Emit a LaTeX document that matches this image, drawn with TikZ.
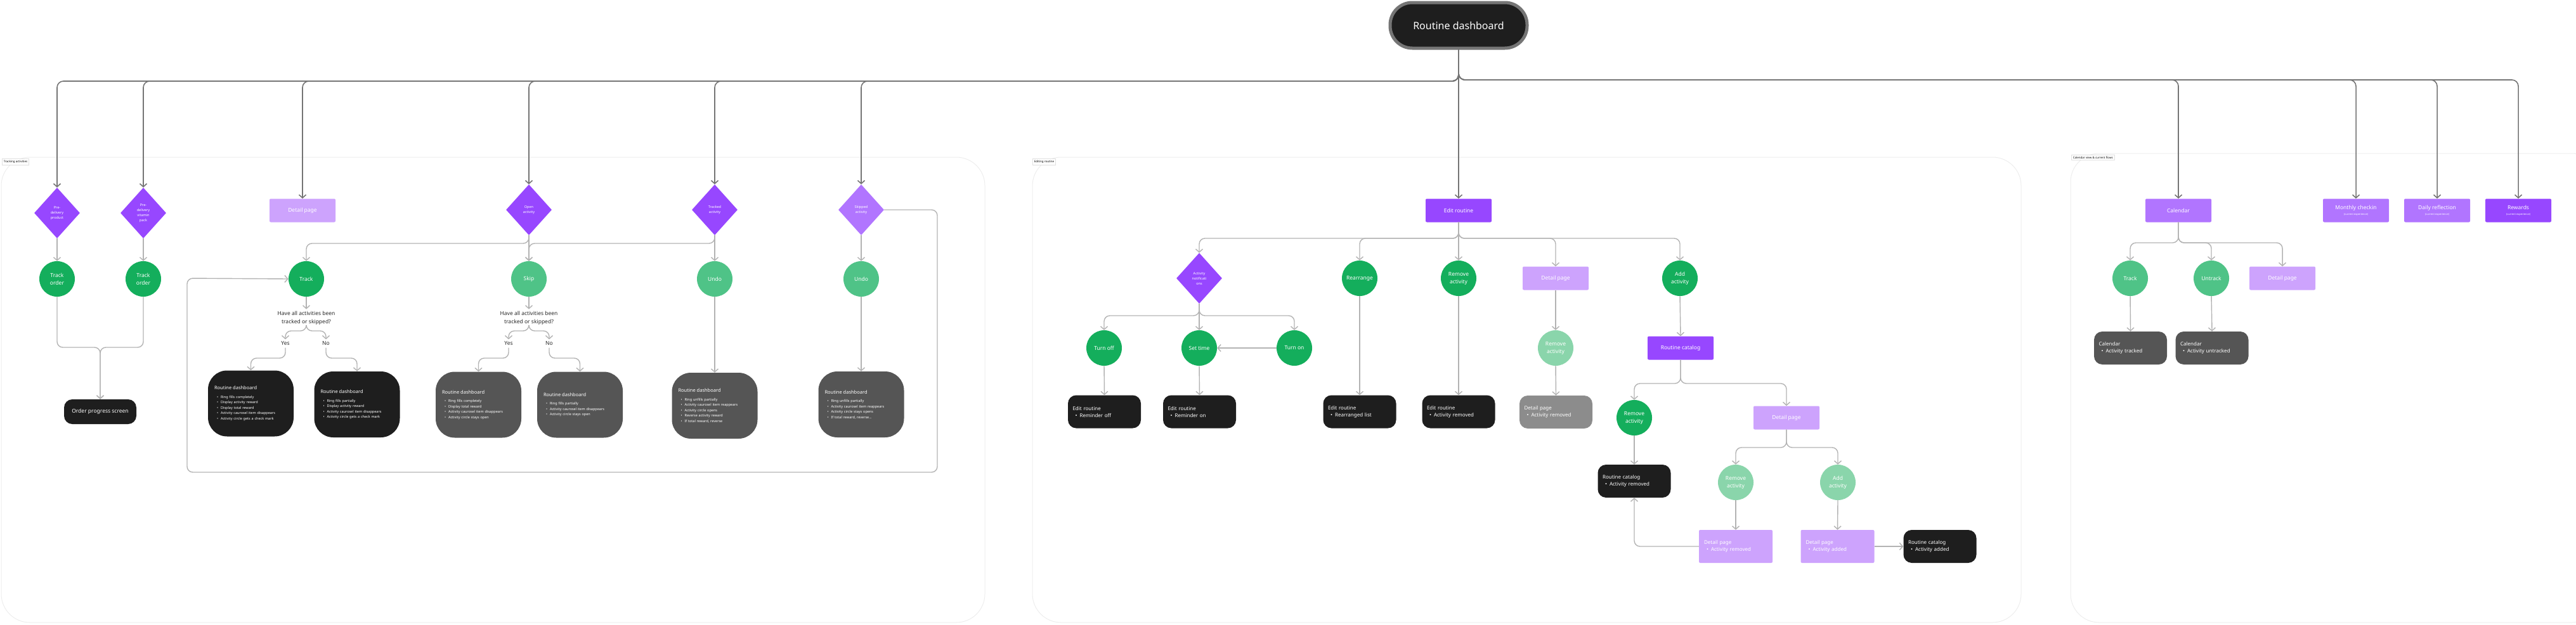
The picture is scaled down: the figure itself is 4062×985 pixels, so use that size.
\documentclass[tikz,border=0pt]{standalone}
\usepackage{fontspec}
\setmainfont{Noto Sans}
\usetikzlibrary{shapes.geometric,arrows.meta}
\definecolor{dpur}{HTML}{9747FF}
\definecolor{mpur}{HTML}{B175FF}
\definecolor{lpur}{HTML}{CDA3FD}
\definecolor{dgrn}{HTML}{14AE5C}
\definecolor{mgrn}{HTML}{4FC387}
\definecolor{lgrn}{HTML}{8AD5AB}
\definecolor{blk}{HTML}{1E1E1E}
\definecolor{dgry}{HTML}{555555}
\definecolor{mgry}{HTML}{8C8C8C}
\definecolor{lin}{HTML}{B3B3B3}
\definecolor{tlin}{HTML}{757575}
\newcommand\itm[1]{\hspace*{4pt}\textbullet\hspace{4pt}#1}
\begin{document}
\begin{tikzpicture}[x=1pt,y=-1pt,
  dia/.style={diamond,fill=#1,inner sep=0pt,minimum width=72pt,minimum height=80pt,text=white,font=\fontsize{5.5}{8}\selectfont,align=center},
  dia/.default=dpur,
  circ/.style={circle,fill=#1,inner sep=0pt,minimum size=56pt,text=white,font=\fontsize{8.5}{12}\selectfont,align=center},
  circ/.default=dgrn,
  rbox/.style={rectangle,rounded corners=2pt,fill=#1,minimum width=104pt,minimum height=37pt,text=white,font=\fontsize{8.5}{10}\selectfont,align=center},
  rbox/.default=lpur,
  big/.style={rectangle,rounded corners=30pt,fill=#1,minimum width=135pt,minimum height=104pt,text width=115pt,align=left,text=white,font=\fontsize{5.5}{8.5}\selectfont},
  big/.default=blk,
  sml/.style={rectangle,rounded corners=13pt,fill=#1,minimum width=115pt,minimum height=52pt,text width=100pt,align=left,text=white,font=\fontsize{8}{11}\selectfont},
  sml/.default=blk,
  frame/.style={draw=black!7,line width=1pt,rounded corners=45pt},
  flab/.style={draw=black!12,line width=0.6pt,fill=white,font=\fontsize{4.5}{5}\selectfont,inner sep=2.5pt,anchor=north west},
  qtxt/.style={font=\fontsize{8.5}{13}\selectfont,align=center,text=black!85},
  ar/.style={draw=lin,line width=1.4pt,rounded corners=9pt,-{Straight Barb[length=5pt,width=11pt]}},
  top/.style={draw=tlin,line width=1.6pt,rounded corners=10pt,-{Straight Barb[length=5pt,width=11pt]}}
]
\useasboundingbox (0,0) rectangle (4062,985);
% frames
\draw[frame] (2,248) rectangle (1553,982);
\draw[frame] (1628,248) rectangle (3187,982);
\draw[frame] (3265,242) rectangle (4100,982);
\node[flab] (fl1) at (3,250) {Tracking activities};
\node[flab] (fl2) at (1628,250) {Editing routine};
\node[flab] (fl3) at (3266,244) {Calendar view \& current flows};
% top
\node[rectangle,rounded corners=35pt,fill=blk,draw=tlin,line width=5pt,minimum width=216pt,minimum height=72pt,text=white,font=\fontsize{16}{18}\selectfont\bfseries] (rd) at (2300,40) {Routine dashboard};
% tracking
\node[dia] (pdp) at (90,336) {Pre-\\delivery\\product};
\node[dia] (pdv) at (226,336) {Pre-\\delivery\\vitamin\\pack};
\node[rbox] (dp1) at (477,332) {Detail page};
\node[dia] (open) at (834,331) {Open\\activity};
\node[dia] (trkd) at (1127,331) {Tracked\\activity};
\node[dia=mpur] (skpd) at (1358,331) {Skipped\\activity};
\node[circ] (to1) at (90,440) {Track\\order};
\node[circ] (to2) at (226,440) {Track\\order};
\node[circ] (track) at (483,440) {Track};
\node[circ=mgrn] (skip) at (834,440) {Skip};
\node[circ=mgrn] (undo1) at (1127,440) {Undo};
\node[circ=mgrn] (undo2) at (1358,440) {Undo};
\node[rectangle,rounded corners=13pt,fill=blk,minimum width=114pt,minimum height=39pt,text=white,font=\fontsize{8.5}{10}\selectfont] (ops) at (158,649.5) {Order progress screen};
\node[qtxt] (q1) at (483,502) {Have all activities been\\tracked or skipped?};
\node[qtxt] (q2) at (834,502) {Have all activities been\\tracked or skipped?};
\node[qtxt] (y1) at (450,542) {Yes};
\node[qtxt] (n1) at (514,542) {No};
\node[qtxt] (y2) at (802,542) {Yes};
\node[qtxt] (n2) at (866,542) {No};
\node[big] (b1) at (395.5,636.5) {{\fontsize{7.5}{9}\selectfont\bfseries Routine dashboard}\\[5pt]\itm{Ring fills completely}\\\itm{Display activity reward}\\\itm{Display total reward}\\\itm{Activity caurosel item disappears}\\\itm{Activity circle gets a check mark}};
\node[big] (b2) at (563,638) {{\fontsize{7.5}{9}\selectfont\bfseries Routine dashboard}\\[5pt]\itm{Ring fills partially}\\\itm{Display activity reward}\\\itm{Activity caurosel item disappears}\\\itm{Activity circle gets a check mark}};
\node[big=dgry] (b3) at (754.5,638.5) {{\fontsize{7.5}{9}\selectfont\bfseries Routine dashboard}\\[5pt]\itm{Ring fills completely}\\\itm{Display total reward}\\\itm{Activity caurosel item disappears}\\\itm{Activity circle stays open}};
\node[big=dgry] (b4) at (914.5,638.5) {{\fontsize{7.5}{9}\selectfont\bfseries Routine dashboard}\\[5pt]\itm{Ring fills partially}\\\itm{Activity caurosel item disappears}\\\itm{Activity circle stays open}};
\node[big=dgry] (b5) at (1127,640) {{\fontsize{7.5}{9}\selectfont\bfseries Routine dashboard}\\[5pt]\itm{Ring unfills partially}\\\itm{Activity caurosel item reappears}\\\itm{Activity circle opens}\\\itm{Reverse activity reward}\\\itm{If total reward, reverse}};
\node[big=dgry] (b6) at (1358,638) {{\fontsize{7.5}{9}\selectfont\bfseries Routine dashboard}\\[5pt]\itm{Ring unfills partially}\\\itm{Activity caurosel item reappears}\\\itm{Activity circle stays opens}\\\itm{If total reward, reverse...}};
% editing
\node[rbox=dpur] (edit) at (2300,332) {Edit routine};
\node[dia] (notif) at (1891,439) {Activity\\notificati\\ons};
\node[circ] (rearr) at (2144,439) {Rearrange};
\node[circ] (remv) at (2300,439) {Remove\\activity};
\node[rbox] (dp2) at (2453,439) {Detail page};
\node[circ] (add) at (2649,439) {Add\\activity};
\node[circ] (toff) at (1741,549) {Turn off};
\node[circ] (stime) at (1891,549) {Set time};
\node[circ] (ton) at (2041,549) {Turn on};
\node[circ=lgrn] (rmL) at (2453,549) {Remove\\activity};
\node[rbox=dpur] (cat) at (2650,549) {Routine catalog};
\node[sml] (e1) at (1741.5,649.5) {\textbf{Edit routine}\\\itm{Reminder off}};
\node[sml] (e2) at (1891.5,649.5) {\textbf{Edit routine}\\\itm{Reminder on}};
\node[sml] (e3) at (2144,649.5) {\textbf{Edit routine}\\\itm{Rearranged list}};
\node[sml] (e4) at (2300,649.5) {\textbf{Edit routine}\\\itm{Activity removed}};
\node[sml=mgry] (e5) at (2453.5,650) {\textbf{Detail page}\\\itm{Activity removed}};
\node[circ] (rmA) at (2577,659) {Remove\\activity};
\node[rbox] (dp3) at (2817,659) {Detail page};
\node[circ=lgrn] (rmL2) at (2737,761) {Remove\\activity};
\node[circ=lgrn] (addL2) at (2898,761) {Add\\activity};
\node[sml] (c1) at (2577,759) {\textbf{Routine catalog}\\\itm{Activity removed}};
\node[rectangle,rounded corners=2pt,fill=lpur,minimum width=116pt,minimum height=52pt,text width=100pt,align=left,text=white,font=\fontsize{8}{11}\selectfont] (dpR) at (2737,862) {\textbf{Detail page}\\\itm{Activity removed}};
\node[rectangle,rounded corners=2pt,fill=lpur,minimum width=116pt,minimum height=52pt,text width=100pt,align=left,text=white,font=\fontsize{8}{11}\selectfont] (dpA) at (2897.5,862) {\textbf{Detail page}\\\itm{Activity added}};
\node[sml] (c2) at (3059,862) {\textbf{Routine catalog}\\\itm{Activity added}};
% calendar
\node[rbox=mpur] (cal) at (3435,332) {Calendar};
\node[rbox=mpur] (mon) at (3715,332) {Monthly checkin\\[-1pt]{\fontsize{4}{5}\selectfont (current experience)}};
\node[rbox=mpur] (day) at (3843,332) {Daily reflection\\[-1pt]{\fontsize{4}{5}\selectfont (current experience)}};
\node[rbox=dpur] (rew) at (3971,332) {Rewards\\[-1pt]{\fontsize{4}{5}\selectfont (current experience)}};
\node[circ=mgrn] (ctrk) at (3359,439) {Track};
\node[circ=mgrn] (cutr) at (3487,439) {Untrack};
\node[rbox] (dp4) at (3599,439) {Detail page};
\node[sml=dgry] (k1) at (3359.5,549) {\textbf{Calendar}\\\itm{Activity tracked}};
\node[sml=dgry] (k2) at (3488,549) {\textbf{Calendar}\\\itm{Activity untracked}};
% top connectors
\foreach \t in {pdp,pdv,dp1,open,trkd,skpd}
  \draw[top] (rd.south) -- (2300,128) -| (\t.north);
\foreach \t in {cal,mon,day,rew}
  \draw[top] (rd.south) -- (2300,126) -| (\t.north);
\draw[top] (rd.south) -- (edit.north);
% tracking connectors
\draw[ar] (pdp.south) -- (to1.north);
\draw[ar] (pdv.south) -- (to2.north);
\draw[ar] (to1.south) -- (90,548) -| (ops.north);
\draw[ar] (to2.south) -- (226,548) -| (ops.north);
\draw[ar] (open.south) -- (834,384) -| (track.north);
\draw[ar] (open.south) -- (skip.north);
\draw[ar] (trkd.south) -- (1127,384) -| (skip.north);
\draw[ar] (trkd.south) -- (undo1.north);
\draw[ar] (skpd.south) -- (undo2.north);
\draw[ar] (track.south) -- (q1.north);
\draw[ar] (skip.south) -- (q2.north);
\draw[ar] (q1.south) -- (483,522) -| (y1.north);
\draw[ar] (q1.south) -- (483,522) -| (n1.north);
\draw[ar] (q2.south) -- (834,522) -| (y2.north);
\draw[ar] (q2.south) -- (834,522) -| (n2.north);
\draw[ar] (y1.south) -- (450,565) -| (b1.north);
\draw[ar] (n1.south) -- (514,565) -| (b2.north);
\draw[ar] (y2.south) -- (802,565) -| (b3.north);
\draw[ar] (n2.south) -- (866,565) -| (b4.north);
\draw[ar] (undo1.south) -- (b5.north);
\draw[ar] (undo2.south) -- (b6.north);
\draw[ar] (skpd.east) -- (1478,331) -- (1478,745) -- (295,745) -- (295,439) -- (track.west);
% editing connectors
\foreach \t in {notif,rearr,dp2,add}
  \draw[ar] (edit.south) -- (2300,376) -| (\t.north);
\draw[ar] (edit.south) -- (remv.north);
\foreach \t in {toff,ton}
  \draw[ar] (notif.south) -- (1891,498) -| (\t.north);
\draw[ar] (notif.south) -- (stime.north);
\draw[ar] (ton.west) -- (stime.east);
\draw[ar] (toff.south) -- (e1.north);
\draw[ar] (stime.south) -- (e2.north);
\draw[ar] (rearr.south) -- (e3.north);
\draw[ar] (remv.south) -- (e4.north);
\draw[ar] (dp2.south) -- (rmL.north);
\draw[ar] (rmL.south) -- (e5.north);
\draw[ar] (add.south) -- (cat.north);
\draw[ar] (cat.south) -- (2650,605) -| (rmA.north);
\draw[ar] (cat.south) -- (2650,605) -| (dp3.north);
\draw[ar] (rmA.south) -- (c1.north);
\draw[ar] (dp3.south) -- (2817,706) -| (rmL2.north);
\draw[ar] (dp3.south) -- (2817,706) -| (addL2.north);
\draw[ar] (rmL2.south) -- (dpR.north);
\draw[ar] (addL2.south) -- (dpA.north);
\draw[ar] (dpA.east) -- (c2.west);
\draw[ar] (dpR.west) -| (c1.south);
% calendar connectors
\foreach \t in {ctrk,cutr,dp4}
  \draw[ar] (cal.south) -- (3435,383) -| (\t.north);
\draw[ar] (ctrk.south) -- (k1.north);
\draw[ar] (cutr.south) -- (k2.north);
\end{tikzpicture}
\end{document}
